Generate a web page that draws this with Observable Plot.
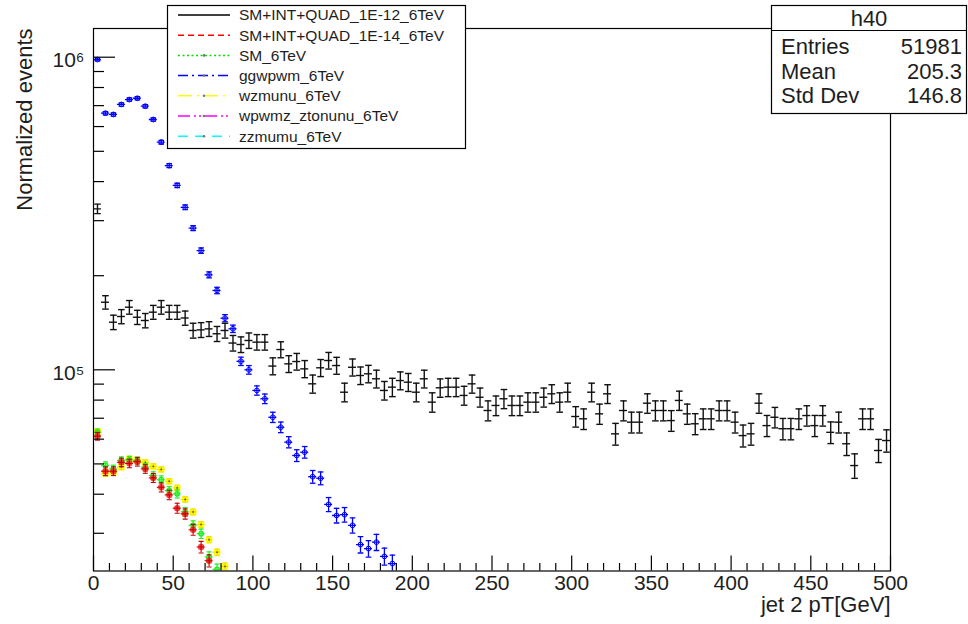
<!DOCTYPE html>
<html><head><meta charset="utf-8">
<script src="https://cdn.jsdelivr.net/npm/d3@7"></script>
<script src="https://cdn.jsdelivr.net/npm/@observablehq/plot@0.6"></script>
<style>
html,body{margin:0;padding:0;background:#fff;}
#chart{width:968px;height:624px;}
</style></head><body><div id="chart"></div>
<script>
// ---------- data ----------
const binWidth = 5; // GeV
const binCenters = d3.range(100).map(i => 2.5 + 5 * i);

const seriesNames = ["SM+INT+QUAD_1E-12_6TeV","SM+INT+QUAD_1E-14_6TeV","SM_6TeV","ggwpwm_6TeV","wzmunu_6TeV","wpwmz_ztonunu_6TeV","zzmumu_6TeV"];
const seriesColors = ["#000000","#ff0000","#00e000","#0000ff","#ffff00","#ff00ff","#00ffff"];
const seriesDash = [null,"6 4","2 2.5","10 4 2 4","14 5 2 5","12 4 2 3 2 4","10 7"];

const sm1e12 = [327300,164500,142000,148100,158600,147300,143800,152900,158600,152900,
  152900,146500,133600,134200,135200,130400,133600,121800,120500,124100,
  122600,122600,102800,116100,104500,106300,100700,90200,101500,107100,
  103200,84800,101900,95900,97100,93600,85900,88000,92400,91300,
  84800,93600,78800,87600,88000,88000,82800,90200,81700,74100,
  76900,80800,76900,76900,78800,78800,81700,83800,78800,84800,
  70900,69700,84800,72300,83800,62400,74100,68000,68000,78200,
  74100,74100,68800,79800,72300,67200,69700,69700,74100,74100,
  68000,61600,62400,78200,66300,70500,64800,64800,69700,71400,
  66300,71400,63100,68000,58000,49400,69700,69700,55200,59400];
const sm1e14 = [61300,47400,47400,50600,50200,50800,48200,45100,42100,39800,36100,34600,30800,27100,24500];
const smOnly = [63100,49400,48200,51300,51500,51300,48800,45900,44500,41100,40100,35100,31800,29900,25200,23000];
const ggwpwm = [983000,662000,656000,706000,732000,739000,697000,632000,535000,450000,
  389000,331000,284000,240700,201300,179400,146300,135300,106500,100000,
  85900,80800,70500,65500,58700,53200,54500,45500,45000,37100,
  34200,34400,31800,27600,26800,28100,25300,24000];
const wzmunu = [63600,46500,47100,48800,51900,51300,50600,49100,48000,44000,41900,38500,35100,32000,28600,26100,23500];

// statistical error scale per series (relative error = k / sqrt(value))
const errScale = {sm1e12: 20, sm1e14: 7, smOnly: 6, ggwpwm: 10, wzmunu: 4};

const xMajor = [0,50,100,150,200,250,300,350,400,450,500];
const xMinor = [10,20,30,40,60,70,80,90,110,120,130,140,160,170,180,190,210,220,230,240,260,270,280,290,310,320,330,340,360,370,380,390,410,420,430,440,460,470,480,490];
const yMajor = [1e5, 1e6];
const yMinor = [3e4,4e4,5e4,6e4,7e4,8e4,9e4,2e5,3e5,4e5,5e5,6e5,7e5,8e5,9e5];
const yTickText = {100000: "10⁵", 1000000: "10⁶"};

const statsTitle = "h40";
const statsRows = [["Entries","51981"],["Mean","205.3"],["Std Dev","146.8"]];
const xTitle = "jet 2 pT[GeV]";
const yTitle = "Normalized events";

// ---------- layout ----------
const W = 968, H = 624;
const mL = 93, mR = 78, mT = 28, mB = 53.5;
const fw = W - mL - mR, fh = H - mT - mB;
const font = "Liberation Sans, Arial, Helvetica, sans-serif";
const ink = "#1e1e1e";

function rows(vals, k) {
  return vals.map((v, i) => {
    const e = k / Math.sqrt(v);
    return {x: binCenters[i], v, lo: v * (1 - e), hi: v * (1 + e)};
  });
}
const cap = {draw(ctx, size) { const r = Math.sqrt(size / Math.PI); ctx.moveTo(-r, 0); ctx.lineTo(r, 0); }};

function errMarks(data, color, sw, capR) {
  return [
    Plot.ruleX(data, {x: "x", y1: "lo", y2: "hi", stroke: color, strokeWidth: sw, clip: true}),
    Plot.ruleY(data, {y: "v", x1: d => d.x - binWidth / 2, x2: d => d.x + binWidth / 2, stroke: color, strokeWidth: sw, clip: true}),
    Plot.dot(data, {x: "x", y: "lo", symbol: cap, r: capR, fill: "none", stroke: color, strokeWidth: sw, clip: true}),
    Plot.dot(data, {x: "x", y: "hi", symbol: cap, r: capR, fill: "none", stroke: color, strokeWidth: sw, clip: true})
  ];
}

const dBlack = rows(sm1e12, errScale.sm1e12);
const dRed = rows(sm1e14, errScale.sm1e14);
const dGreen = rows(smOnly, errScale.smOnly);
const dBlue = rows(ggwpwm, errScale.ggwpwm);
const dYellow = rows(wzmunu, errScale.wzmunu);

const chart = Plot.plot({
  width: W, height: H,
  marginLeft: mL, marginRight: mR, marginTop: mT, marginBottom: mB,
  style: {fontFamily: font, background: "#fff", color: ink},
  x: {domain: [0, 500]},
  y: {type: "log", domain: [22720, 1.2355e6]},
  marks: [
    // data
    Plot.dot(dYellow, {x: "x", y: "v", symbol: "square", r: 3.6, fill: "#ffff00", clip: true}),
    ...errMarks(dYellow, "#f0e000", 1.2, 2.5),
    Plot.dot(dYellow, {x: "x", y: "v", r: 0.9, fill: "#555", clip: true}),
    ...errMarks(dGreen, "#22ee22", 1.2, 2.5),
    Plot.dot(dGreen, {x: "x", y: "v", r: 2.2, fill: "none", stroke: "#22ee22", clip: true}),
    Plot.dot(dRed, {x: "x", y: "v", r: 3.2, fill: "#ff2020", fillOpacity: 0.85, clip: true}),
    ...errMarks(dRed, "#c00000", 1.1, 2.5),
    ...errMarks(dBlue, "#0000ff", 1.3, 2.8),
    Plot.dot(dBlue, {x: "x", y: "v", r: 2.4, fill: "none", stroke: "#0000ff", strokeWidth: 1, clip: true}),
    ...errMarks(dBlack, "#111", 1.4, 3.3),
    // frame and inward ticks
    Plot.frame({stroke: "#000", strokeWidth: 1.2}),
    Plot.ruleX(xMajor, {insetTop: fh - 15, stroke: "#000", strokeWidth: 1.2}),
    Plot.ruleX(xMinor, {insetTop: fh - 7.5, stroke: "#000", strokeWidth: 1.2}),
    Plot.ruleY(yMajor, {insetRight: fw - 22, stroke: "#000", strokeWidth: 1.2}),
    Plot.ruleY(yMinor, {insetRight: fw - 11, stroke: "#000", strokeWidth: 1.2}),
    // axes labels
    Plot.axisX({ticks: xMajor, tickSize: 0, tickPadding: 4, fontSize: 21, label: null, tickFormat: d => String(d)}),
    Plot.axisY({ticks: yMajor, tickSize: 0, tickPadding: 9, fontSize: 21, label: null, tickFormat: d => yTickText[d], dy: 3}),
    Plot.text([xTitle], {text: d => d, frameAnchor: "bottom-right", textAnchor: "end", dy: 41, fontSize: 22, fill: ink}),
    Plot.text([yTitle], {text: d => d, frameAnchor: "top-left", textAnchor: "end", rotate: -90, dx: -77, fontSize: 22, fill: ink})
  ]
});
document.getElementById("chart").appendChild(chart);

// ---------- legend & stats box ----------
const svg = d3.select(chart);
const lg = svg.append("g").attr("font-family", font).attr("text-anchor", "start");
lg.append("rect").attr("x", 167.5).attr("y", 5.5).attr("width", 298).attr("height", 143)
  .attr("fill", "#fff").attr("stroke", "#000").attr("stroke-width", 1.2);
seriesNames.forEach((name, i) => {
  const y = 15 + 20.2 * i;
  lg.append("line").attr("x1", 178).attr("x2", 230).attr("y1", y).attr("y2", y)
    .attr("stroke", seriesColors[i]).attr("stroke-width", 1.5)
    .attr("stroke-dasharray", seriesDash[i]);
  if (i > 1) lg.append("circle").attr("cx", 204).attr("cy", y).attr("r", 1.3).attr("fill", "#777");
  lg.append("text").attr("x", 239).attr("y", y).attr("dy", "0.35em").attr("text-anchor", "start")
    .attr("font-size", 15.5).attr("fill", ink).text(name);
});

const sg = svg.append("g").attr("font-family", font).attr("fill", ink);
sg.append("rect").attr("x", 771.5).attr("y", 5.5).attr("width", 195).attr("height", 108)
  .attr("fill", "#fff").attr("stroke", "#000").attr("stroke-width", 1.2);
sg.append("line").attr("x1", 771.5).attr("x2", 966.5).attr("y1", 30.5).attr("y2", 30.5)
  .attr("stroke", "#000").attr("stroke-width", 1.2);
sg.append("text").attr("x", 869).attr("y", 18).attr("dy", "0.35em").attr("text-anchor", "middle")
  .attr("font-size", 22).text(statsTitle);
statsRows.forEach(([k, v], i) => {
  const y = 46.5 + 24.3 * i;
  sg.append("text").attr("x", 781).attr("y", y).attr("dy", "0.35em").attr("text-anchor", "start").attr("font-size", 22).text(k);
  sg.append("text").attr("x", 962).attr("y", y).attr("dy", "0.35em").attr("text-anchor", "end").attr("font-size", 22).text(v);
});
</script>
</body></html>
